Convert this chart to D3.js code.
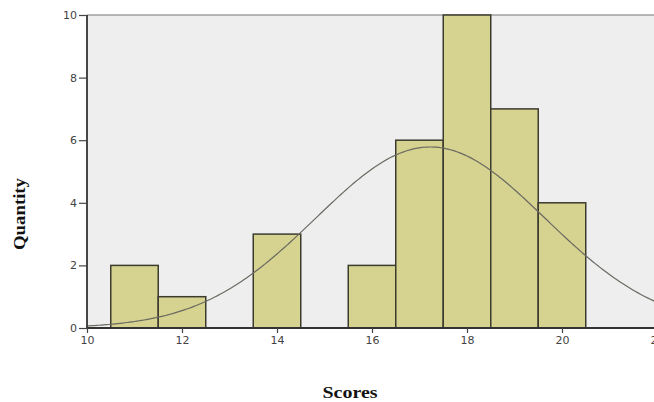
<!DOCTYPE html>
<html><head><meta charset="utf-8">
<script src="https://cdn.jsdelivr.net/npm/d3@7"></script>
<style>body{margin:0;background:#fff}svg{display:block}</style>
</head><body>
<script>
const binStarts = [10.5, 11.5, 13.5, 15.5, 16.5, 17.5, 18.5, 19.5];
const binCounts = [2, 1, 3, 2, 6, 10, 7, 4];
const binWidth = 1;
const xTicks = [10, 12, 14, 16, 18, 20, 22];
const yTicks = [0, 2, 4, 6, 8, 10];
const xTitle = "Scores";
const yTitle = "Quantity";

const W = 654, H = 402;
const svg = d3.select("body").append("svg").attr("width", W).attr("height", H);
const x = d3.scaleLinear().domain([10, 22]).range([87, 657]);
const y = d3.scaleLinear().domain([0, 10]).range([328, 15]);

svg.append("rect").attr("x", x(10)).attr("y", y(10)).attr("width", W - x(10)).attr("height", y(0) - y(10)).attr("fill", "#eeeeee");
svg.append("line").attr("x1", x(10)).attr("x2", W).attr("y1", y(10)).attr("y2", y(10)).attr("stroke", "#777").attr("stroke-width", 1.2);

svg.selectAll("rect.bar").data(binStarts).join("rect").attr("class", "bar")
  .attr("x", d => x(d)).attr("width", d => x(d + binWidth) - x(d))
  .attr("y", (d, i) => y(binCounts[i])).attr("height", (d, i) => y(0) - y(binCounts[i]))
  .attr("fill", "#d6d28f").attr("stroke", "#3b3b2e").attr("stroke-width", 1.5);

// fitted normal curve from the histogram data
const mids = binStarts.map(d => d + binWidth / 2);
const n = d3.sum(binCounts);
const mean = d3.sum(mids, (m, i) => m * binCounts[i]) / n;
const sd = Math.sqrt(d3.sum(mids, (m, i) => binCounts[i] * (m - mean) ** 2) / (n - 1));
const curveX = d3.range(10, 22.01, 0.05);
const pdf = v => n * binWidth * Math.exp(-0.5 * ((v - mean) / sd) ** 2) / (sd * Math.sqrt(2 * Math.PI));
svg.append("path").datum(curveX).attr("fill", "none").attr("stroke", "#6a6a62").attr("stroke-width", 1.2)
  .attr("d", d3.line().x(d => x(d)).y(d => y(pdf(d))));

const gx = svg.append("g").attr("transform", `translate(0,${y(0)})`)
  .call(d3.axisBottom(x).tickValues(xTicks).tickSize(5).tickPadding(3).tickFormat(d3.format("d")));
const gy = svg.append("g").attr("transform", `translate(${x(10)},0)`)
  .call(d3.axisLeft(y).tickValues(yTicks).tickSize(8).tickPadding(2).tickFormat(d3.format("d")));
[gx, gy].forEach(g => {
  g.select(".domain").attr("stroke", "#333").attr("stroke-width", 1.8);
  g.selectAll(".tick line").attr("stroke", "#444").attr("stroke-width", 1.2);
  g.selectAll(".tick text").attr("fill", "#444").attr("font-family", "DejaVu Sans, sans-serif").attr("font-size", 11);
});
gy.select(".domain").attr("d", `M0,${y(0)}V${y(10)}`);
gx.select(".domain").attr("d", `M${x(10)},0H${W}`);

svg.append("text").attr("x", 350).attr("y", 398).attr("text-anchor", "middle")
  .attr("font-family", "Liberation Serif, Times New Roman, serif").attr("font-weight", "bold").attr("font-size", 16)
  .attr("textLength", 55).attr("lengthAdjust", "spacingAndGlyphs").attr("fill", "#111").text(xTitle);
svg.append("text").attr("transform", "translate(25,214) rotate(-90)").attr("text-anchor", "middle")
  .attr("font-family", "Liberation Serif, Times New Roman, serif").attr("font-weight", "bold").attr("font-size", 16)
  .attr("textLength", 72).attr("lengthAdjust", "spacingAndGlyphs").attr("fill", "#111").text(yTitle);
</script>
</body></html>
